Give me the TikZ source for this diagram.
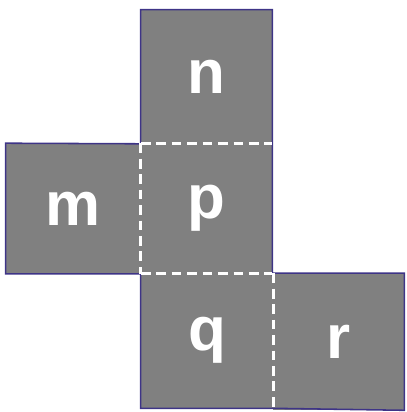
\documentclass[tikz,border=0pt]{standalone}
\usepackage{fontspec}
\setmainfont{Liberation Sans}
\definecolor{facegray}{RGB}{128,128,128}
\definecolor{edgeblue}{RGB}{62,52,135}

\begin{document}
\begin{tikzpicture}[x=0.025cm, y=-0.025cm,
    face/.style={shape=rectangle, fill=facegray, inner sep=0pt, text=white,
      font=\fontsize{44}{44}\selectfont\bfseries},
    rim/.style={draw=edgeblue, line width=1.1pt, line join=miter},
    fold/.style={draw=white, line width=2pt, dash pattern=on 7pt off 4pt}]
    \useasboundingbox (0,0) rectangle (406,412);
    \node[face, minimum width=3.275cm, minimum height=3.3375cm] at (206.5,76.75) (n) {n};
    \node[face, minimum width=3.275cm, minimum height=3.25cm] at (206.5,208.5) (p) {p};
    \node[face, minimum width=3.375cm, minimum height=3.25cm] at (73.5,208.5) (m) {m};
    \node[face, minimum width=3.3cm, minimum height=3.3625cm] at (207,340.75) (q) {q};
    \node[face, minimum width=3.275cm, minimum height=3.4125cm] at (338.5,341.75) (r) {r};
    % outer edge of the net
    \path[rim] (m.north west) -- (n.south west) -- (n.north west) -- (n.north east)
      -- (p.south east) -- (r.north west) -- (r.north east) -- (r.south east)
      -- (q.south east) -- (q.south west) -- (p.south west) -- (m.south west) -- cycle;
    % folds
    \path[fold] (n.south west) -- (n.south east);
    \path[fold] (p.north west) -- (p.south west);
    \path[fold] (p.south west) -- (p.south east);
    \path[fold] (q.north east) -- (q.south east);
\end{tikzpicture}
\end{document}
